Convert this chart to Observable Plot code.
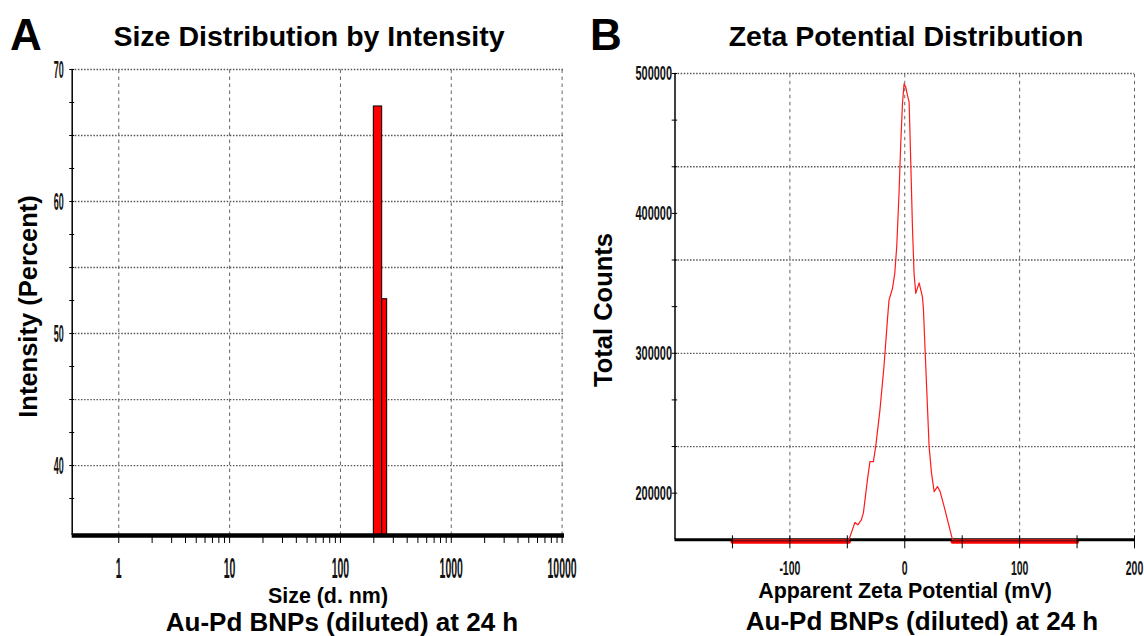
<!DOCTYPE html>
<html><head><meta charset="utf-8">
<script src="https://cdn.jsdelivr.net/npm/d3@7"></script>
<script src="https://cdn.jsdelivr.net/npm/@observablehq/plot@0.6"></script>
<style>
html,body{margin:0;padding:0;background:#fff;}
#root{position:relative;width:1144px;height:636px;overflow:hidden;background:#fff;}
#pa,#pb{position:absolute;top:0;}
#pa{left:0;} #pb{left:572px;}
#ann{position:absolute;left:0;top:0;pointer-events:none;font-family:"Liberation Sans",Arial,sans-serif;font-weight:bold;fill:#000;}
</style></head><body>
<div id="root">
  <div id="pa"></div>
  <div id="pb"></div>
  <svg id="ann" width="1144" height="636" xmlns="http://www.w3.org/2000/svg">
    <text x="10" y="50" font-size="44">A</text>
    <text x="590" y="50" font-size="44">B</text>
    <text x="309" y="46" font-size="28.5" text-anchor="middle">Size Distribution by Intensity</text>
    <text x="906" y="46" font-size="28.5" text-anchor="middle">Zeta Potential Distribution</text>
    <text transform="translate(37,306.5) rotate(-90)" font-size="25.5" text-anchor="middle">Intensity (Percent)</text>
    <text transform="translate(612,310) rotate(-90)" font-size="25.5" text-anchor="middle">Total Counts</text>
    <text x="328" y="603" font-size="21.4" text-anchor="middle">Size (d. nm)</text>
    <text x="905" y="598" font-size="21.4" text-anchor="middle">Apparent Zeta Potential (mV)</text>
    <text x="342" y="631" font-size="26" text-anchor="middle">Au-Pd BNPs (diluted) at 24 h</text>
    <text x="922" y="630" font-size="26" text-anchor="middle">Au-Pd BNPs (diluted) at 24 h</text>
  </svg>
</div>
<script>
// ---------- Panel A: Size distribution by intensity ----------
const sizeBinStart = [200, 238];
const sizeBinEnd = [238, 264];
const sizeIntensity = [67.2, 52.6];
const sizeLabelValues = [1, 10, 100, 1000, 10000];
const sizeLabelText = ["1", "10", "100", "1000", "10000"];
const intensityLabelValues = [40, 50, 60, 70];
const intensityGridValues = [40, 45, 50, 55, 60, 65, 70];
const intensityTickValues = [37.5, 40, 42.5, 45, 47.5, 50, 52.5, 55, 57.5, 60, 62.5, 65, 67.5, 70];
const sizeDomain = [0.38, 10508];
const intensityDomain = [34.7, 70];

// ---------- Panel B: Zeta potential distribution ----------
const zetaMv = [-150, -48.6, -45.6, -43.4, -40.8, -37.8, -36.0, -32.5, -30.3, -27.3, -25.3, -21.6, -18.1, -15.1, -13.7, -10.7, -8.7, -7.0, -5.0, -3.5, -2.0, -0.6, 0.9, 2.4, 3.8, 5.2, 6.7, 8.1, 9.6, 12.5, 15.4, 16.3, 18.3, 21.2, 23.3, 25.6, 28.5, 30.8, 34.3, 41.6, 150];
const zetaCounts = [166667, 166667, 173800, 179000, 177400, 180900, 185900, 209500, 222500, 222500, 233300, 259400, 290400, 323700, 338000, 346300, 357000, 376000, 414100, 449800, 478400, 492600, 490200, 484300, 479500, 437900, 390300, 357000, 342800, 350300, 340300, 330800, 290400, 233300, 214300, 201100, 204700, 201100, 190400, 166667, 166667];
const zetaLabelValues = [-100, 0, 100, 200];
const zetaTickValues = [-150, -100, -50, 0, 50, 100, 150, 200];
const zetaGridValues = [-100, 0, 100, 200];
const countLabelValues = [200000, 300000, 400000, 500000];
const countGridValues = [233333, 300000, 366667, 433333, 500000];
const countTickValues = [200000, 233333, 266667, 300000, 333333, 366667, 400000, 433333, 466667, 500000];
const zetaDomain = [-200, 200];
const countDomain = [166667, 500000];

// minor log ticks for panel A
const sizeTickValues = [];
for (const dec of [1, 10, 100, 1000]) for (let k = 1; k < 10; k++) sizeTickValues.push(dec * k);
sizeTickValues.push(10000);

const dotted = {stroke: "#555", strokeWidth: 1.3, strokeDasharray: "1.5,1.6"};
const dashed = {stroke: "#666", strokeWidth: 1, strokeDasharray: "3.5,3.5"};
const font = {fontFamily: "Liberation Sans, Arial, sans-serif", fontSize: 15, fontWeight: "bold", fill: "#111"};

const bars = sizeBinStart.map((s, i) => ({x1: s, x2: sizeBinEnd[i], y: sizeIntensity[i]}));

const plotA = Plot.plot({
  width: 572, height: 636,
  marginLeft: 71.7, marginRight: 8, marginTop: 69, marginBottom: 101,
  style: {background: "transparent", overflow: "visible", fontFamily: "Liberation Sans, Arial, sans-serif"},
  x: {type: "log", domain: sizeDomain},
  y: {domain: intensityDomain},
  marks: [
    Plot.ruleY(intensityGridValues, {y: d => d, ...dotted}),
    Plot.ruleX(sizeLabelValues, {x: d => d, y1: intensityDomain[0], y2: intensityDomain[1], ...dashed}),
    Plot.rect(bars, {x1: "x1", x2: "x2", y1: intensityDomain[0], y2: "y", fill: "#ff0000", stroke: "#000", strokeWidth: 1}),
    Plot.ruleX([sizeDomain[0]], {y1: intensityDomain[0], y2: intensityDomain[1], stroke: "#000", strokeWidth: 1.5}),
    Plot.ruleY([intensityDomain[0]], {stroke: "#000", strokeWidth: 4.5}),
    Plot.axisX({ticks: sizeTickValues, tickSize: 8, tickFormat: () => "", label: null}),
    Plot.axisY({ticks: intensityTickValues, tickSize: 5, dx: 2.5, tickFormat: () => "", label: null}),
    Plot.text(sizeLabelValues, {x: d => d, frameAnchor: "bottom", dy: 37, text: (d, i) => sizeLabelText[i], ...font}),
    Plot.text(intensityLabelValues, {y: d => d, frameAnchor: "left", dx: -8.4, textAnchor: "end", text: d => String(d), ...font})
  ]
});

const zeta = zetaMv.map((x, i) => ({x, y: zetaCounts[i]}));

const plotB = Plot.plot({
  width: 572, height: 636,
  marginLeft: 102.5, marginRight: 10, marginTop: 73, marginBottom: 96.7,
  style: {background: "transparent", overflow: "visible", fontFamily: "Liberation Sans, Arial, sans-serif"},
  x: {domain: zetaDomain},
  y: {domain: countDomain},
  marks: [
    Plot.ruleY(countGridValues, {y: d => d, ...dotted}),
    Plot.ruleX(zetaGridValues, {x: d => d, y1: countDomain[0], y2: countDomain[1], ...dashed}),
    Plot.line(zeta.filter(d => d.y <= countDomain[0]), {x: "x", y: "y", z: d => d.x < 0, stroke: "#ff0000", strokeWidth: 4, dy: 2}),
    Plot.ruleY([countDomain[0]], {stroke: "#000", strokeWidth: 3}),
    Plot.line(zeta, {x: "x", y: "y", stroke: "#ff1a1a", strokeWidth: 1.2}),
    Plot.ruleX([zetaDomain[0]], {y1: countDomain[0], y2: countDomain[1], stroke: "#000", strokeWidth: 1.5}),
    Plot.axisX({ticks: zetaTickValues, tickSize: 13, dy: -4, tickFormat: () => "", label: null}),
    Plot.axisY({ticks: countTickValues, tickSize: 5.5, dx: 2.7, tickFormat: () => "", label: null}),
    Plot.text(zetaLabelValues, {x: d => d, frameAnchor: "bottom", dy: 33, text: d => (d < 0 ? "-" + Math.abs(d) : String(d)), ...font}),
    Plot.text(countLabelValues, {y: d => d, frameAnchor: "left", dx: -3, textAnchor: "end", text: d => String(d), ...font})
  ]
});

document.getElementById("pa").appendChild(plotA);
document.getElementById("pb").appendChild(plotB);

// condensed, vertically stretched tick-label look of the instrument software
function stretch(group, sx, sy, anchor) {
  if (!group) return;
  group.querySelectorAll("text").forEach(t => {
    const b = t.getBBox();
    let px = anchor === "end" ? b.x + b.width : b.x + b.width / 2;
    let py = b.y + b.height / 2;
    const tl = t.transform.baseVal;
    if (tl.numberOfItems) {
      const M = tl.consolidate().matrix;
      const X = M.a * px + M.c * py + M.e, Y = M.b * px + M.d * py + M.f;
      px = X; py = Y;
    }
    const old = t.getAttribute("transform") || "";
    t.setAttribute("transform", `translate(${px},${py}) scale(${sx},${sy}) translate(${-px},${-py}) ${old}`);
  });
}
const textA = plotA.querySelectorAll('g[aria-label="text"]');
const textB = plotB.querySelectorAll('g[aria-label="text"]');
stretch(textA[0], 0.7, 2.0, "middle");
stretch(textA[1], 0.6, 1.6, "end");
stretch(textB[0], 0.7, 1.35, "middle");
stretch(textB[1], 0.73, 1.3, "end");
</script>
</body></html>
